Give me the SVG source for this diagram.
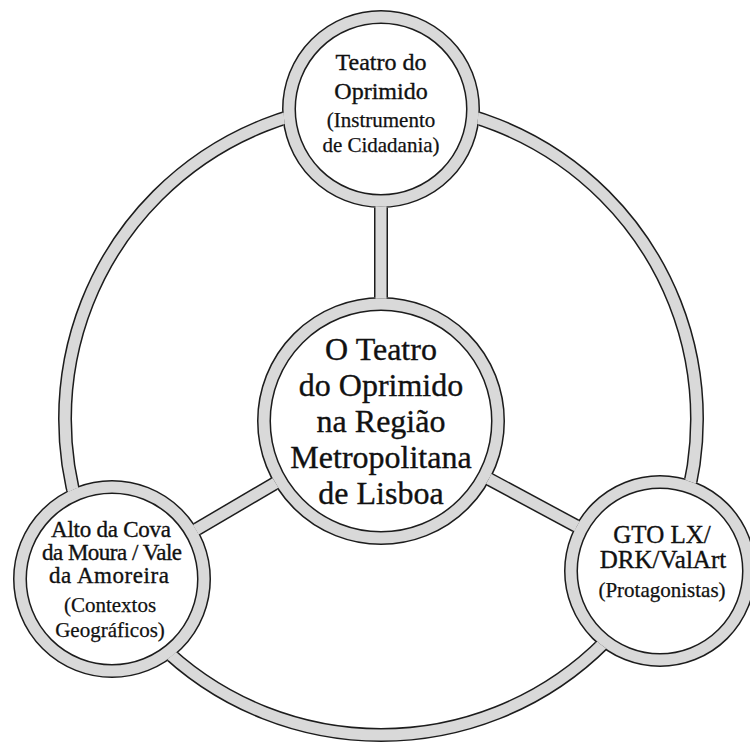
<svg xmlns="http://www.w3.org/2000/svg" width="750" height="743" viewBox="0 0 750 743">
<style>
.ob{fill:#ffffff;stroke:#1c1c1c;stroke-width:14}
.og{fill:none;stroke:#d9d9d9;stroke-width:11}
.cb{fill:none;stroke:#1c1c1c;stroke-width:14}
.cg{fill:none;stroke:#d9d9d9;stroke-width:11}
text{fill:#111;stroke:#111;stroke-width:0.35;text-anchor:middle}
.t{font-size:24px}
.tc{font-size:32px}
.s{font-size:21px;stroke-width:0.25}
</style>
<defs>
<mask id="mB" maskUnits="userSpaceOnUse" x="0" y="0" width="750" height="743">
<rect x="0" y="0" width="750" height="743" fill="#fff"/>
<circle cx="381" cy="421" r="124" fill="#000"/>
<circle cx="381" cy="109" r="99" fill="#000"/>
<circle cx="112" cy="579" r="99" fill="#000"/>
<circle cx="660" cy="571" r="96" fill="#000"/>
</mask>
<mask id="mG" maskUnits="userSpaceOnUse" x="0" y="0" width="750" height="743">
<rect x="0" y="0" width="750" height="743" fill="#fff"/>
<circle cx="381" cy="421" r="122.4" fill="#000"/>
<circle cx="381" cy="109" r="97.4" fill="#000"/>
<circle cx="112" cy="579" r="97.4" fill="#000"/>
<circle cx="660" cy="571" r="94.4" fill="#000"/>
</mask>
</defs>

<g font-family="'Liberation Serif', 'Times New Roman', Times, serif">
<g id="node-center">
<circle class="ob" cx="381" cy="421" r="117"/>
<circle class="og" cx="381" cy="421" r="117"/>
<text class="tc" x="381" y="360">O Teatro</text>
<text class="tc" x="381" y="396">do Oprimido</text>
<text class="tc" x="381" y="432">na Região</text>
<text class="tc" x="381" y="468">Metropolitana</text>
<text class="tc" x="381" y="504">de Lisboa</text>
</g>

<g id="node-top">
<circle class="ob" cx="381" cy="109" r="92"/>
<circle class="og" cx="381" cy="109" r="92"/>
<text class="t" x="381" y="70">Teatro do</text>
<text class="t" x="381" y="99">Oprimido</text>
<text class="s" x="381" y="127">(Instrumento</text>
<text class="s" x="381" y="152">de Cidadania)</text>
</g>

<g id="node-left">
<circle class="ob" cx="112" cy="579" r="92"/>
<circle class="og" cx="112" cy="579" r="92"/>
<text class="t" x="111" y="537" style="font-size:23px" textLength="120" lengthAdjust="spacing">Alto da Cova</text>
<text class="t" x="112" y="560" style="font-size:23px" textLength="140" lengthAdjust="spacing">da Moura / Vale</text>
<text class="t" x="109" y="583" style="font-size:23px" textLength="120" lengthAdjust="spacing">da Amoreira</text>
<text class="s" x="110" y="612">(Contextos</text>
<text class="s" x="110" y="637">Geográficos)</text>
</g>

<g id="node-right">
<circle class="ob" cx="660" cy="571" r="89"/>
<circle class="og" cx="660" cy="571" r="89"/>
<text class="t" x="662" y="543" style="font-size:25px">GTO LX/</text>
<text class="t" x="663" y="568" style="font-size:25px">DRK/ValArt</text>
<text class="s" x="662" y="597">(Protagonistas)</text>
</g>
</g>

<g id="connectors">
<g mask="url(#mB)">
<circle class="cb" cx="381" cy="419" r="316"/>
<line class="cb" x1="381" y1="421" x2="381" y2="109"/>
<line class="cb" x1="381" y1="421" x2="112" y2="579"/>
<line class="cb" x1="381" y1="421" x2="660" y2="571"/>
</g>
<g mask="url(#mG)">
<circle class="cg" cx="381" cy="419" r="316"/>
<line class="cg" x1="381" y1="421" x2="381" y2="109"/>
<line class="cg" x1="381" y1="421" x2="112" y2="579"/>
<line class="cg" x1="381" y1="421" x2="660" y2="571"/>
</g>
</g>
</svg>
